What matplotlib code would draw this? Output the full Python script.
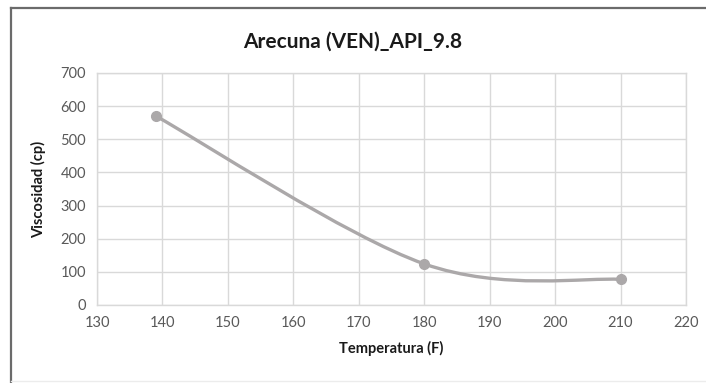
import matplotlib.pyplot as plt
from matplotlib.path import Path
from matplotlib.patches import PathPatch
from matplotlib.lines import Line2D
import numpy as np

plt.rcParams['font.family'] = ['Lato', 'DejaVu Sans']

# data
temperatura = [139, 180, 210]
viscosidad = [570, 124, 77]
x_ticks = [130, 140, 150, 160, 170, 180, 190, 200, 210, 220]
y_ticks = [0, 100, 200, 300, 400, 500, 600, 700]

line_color = '#ABA8A9'
grid_color = '#D9D9D9'
text_color = '#595959'


def excel_smooth_path(xs, ys):
    # bezier segments like Excel's "smoothed line"
    pts = np.column_stack([xs, ys]).astype(float)
    p = np.vstack([pts[0], pts, pts[-1]])
    verts = [pts[0]]
    codes = [Path.MOVETO]
    for i in range(1, len(p) - 2):
        p0, p1, p2, p3 = p[i - 1], p[i], p[i + 1], p[i + 2]
        c1 = p1 + (p2 - p0) / 6
        c2 = p2 - (p3 - p1) / 6
        verts += [c1, c2, p2]
        codes += [Path.CURVE4] * 3
    return Path(verts, codes)


fig = plt.figure(figsize=(7.06, 3.83), dpi=100)
ax = fig.add_axes([0.1374, 0.2037, 0.8343, 0.6057])

ax.add_patch(PathPatch(excel_smooth_path(temperatura, viscosidad),
                       facecolor='none', edgecolor=line_color, lw=2.4,
                       capstyle='round', zorder=3))
ax.plot(temperatura, viscosidad, linestyle='none', marker='o', markersize=7,
        color=line_color, zorder=4)

ax.set_xlim(130, 220)
ax.set_ylim(0, 700)
ax.set_xticks(x_ticks)
ax.set_yticks(y_ticks)
ax.grid(True, color=grid_color, lw=1)
ax.set_axisbelow(True)
for s in ax.spines.values():
    s.set_color(grid_color)
    s.set_linewidth(1)
ax.tick_params(length=0, labelsize=10.5, labelcolor=text_color, pad=8)

# title is centred on the whole chart, not the plot area
fig.text(0.5, 1 - 42 / 383, 'Arecuna (VEN)_API_9.8', fontsize=15,
         fontweight='bold', color='#1a1a1a', ha='center', va='center')
ax.set_xlabel('Temperatura (F)', fontsize=10.5, fontweight='bold',
              color='#1a1a1a', labelpad=8)
ax.set_ylabel('Viscosidad (cp)', fontsize=10.5, fontweight='bold',
              color='#1a1a1a', labelpad=10)

# screenshot frame edges
fig.add_artist(Line2D([11 / 706, 11 / 706], [0, 1 - 8 / 383],
                      color='#6b6b6b', lw=1.6))
fig.add_artist(Line2D([11 / 706, 1], [1 - 8 / 383, 1 - 8 / 383],
                      color='#6b6b6b', lw=1.6))
fig.add_artist(Line2D([11 / 706, 1], [1 - 381 / 383, 1 - 381 / 383],
                      color='#ececec', lw=1))

fig.savefig('out.png', dpi=100)
